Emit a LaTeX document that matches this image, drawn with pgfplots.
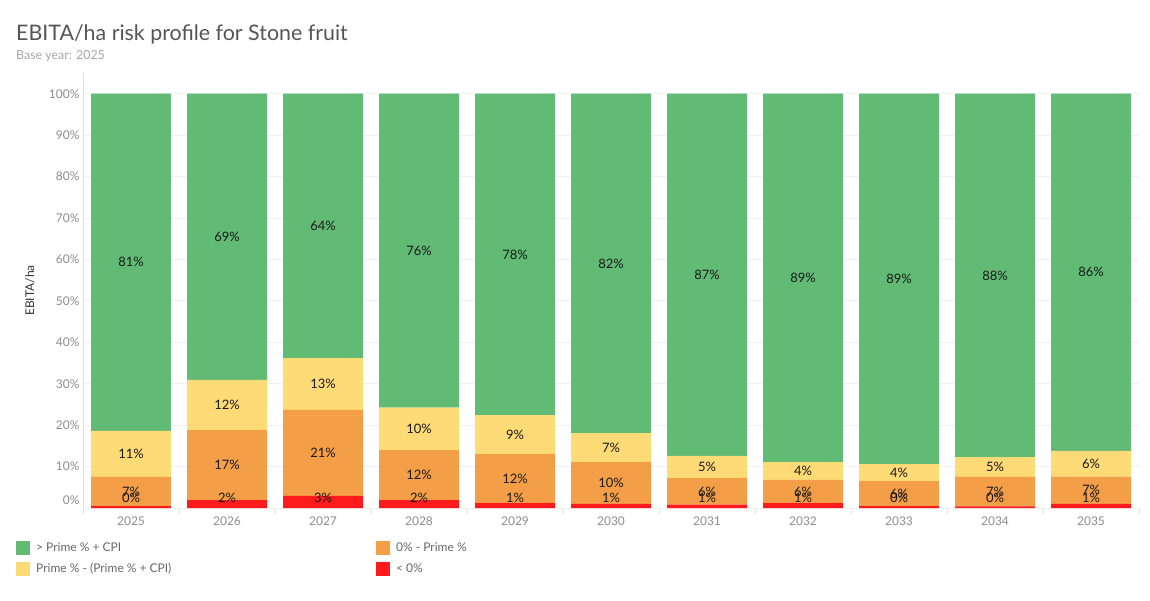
\documentclass[border=0pt]{standalone}
\usepackage{fontspec}
\setmainfont{Lato}
\usepackage{pgfplots}
\pgfplotsset{compat=1.18}
\usepackage{pgfplotstable}

\definecolor{cgreen}{RGB}{97,187,117}
\definecolor{cyellow}{RGB}{255,219,120}
\definecolor{corange}{RGB}{244,158,72}
\definecolor{cred}{RGB}{255,27,27}
\definecolor{ctitle}{RGB}{85,85,85}
\definecolor{csub}{RGB}{165,165,165}
\definecolor{ctick}{RGB}{140,140,140}
\definecolor{cgrid}{RGB}{240,240,240}
\definecolor{cdiv}{RGB}{225,225,225}
\definecolor{clegend}{RGB}{102,102,102}

% share of hectares per EBITA/ha band, %
\pgfplotstableread{
x year red orange yellow green
0  2025 0.45 7.05 11.1 81.4
1  2026 1.9  16.9 12.1 69.1
2  2027 2.9  20.8 12.5 63.8
3  2028 1.9  12.1 10.2 75.8
4  2029 1.2  11.8 9.4  77.6
5  2030 1.0  10.1 7.0  81.9
6  2031 0.8  6.4  5.4  87.4
7  2032 1.2  5.6  4.3  88.9
8  2033 0.45 6.05 4.1  89.4
9  2034 0.4  7.1  4.8  87.7
10 2035 1.0  6.6  6.2  86.2
}\risk

\pgfplotsset{
  riskaxis/.style={
    scale only axis, width=1056pt, height=435pt,
    at={(83pt,92pt)}, anchor=south west,
    xmin=-0.5, xmax=10.5, ymin=0, ymax=105,
    /pgf/number format/assume math mode=true,
  },
}

\begin{document}
\begin{tikzpicture}
\path[use as bounding box] (0,0) rectangle (1150pt,600pt);

\node[anchor=base west, inner sep=0pt, text=ctitle, font=\fontsize{21.4}{25}\selectfont]
  at (16pt,559pt) {EBITA/ha risk profile for Stone fruit};
\node[anchor=base west, inner sep=0pt, text=csub, font=\fontsize{12.4}{14}\selectfont]
  at (16pt,540pt) {Base year: 2025};

\begin{axis}[
  riskaxis,
  ybar stacked, bar width=0.8333,
  axis x line*=bottom, axis y line*=left,
  axis line style={draw=cdiv, -},
  major tick length=0pt,
  xtick={0,...,10},
  xticklabels={2025,2026,2027,2028,2029,2030,2031,2032,2033,2034,2035},
  xticklabel style={yshift=-5pt},
  extra x ticks={-0.5,0.5,...,10.5},
  extra x tick labels={},
  extra x tick style={major tick length=6pt, tick align=outside,
    tick style={draw=cdiv, line width=0.8pt}},
  ytick={10,20,...,100},
  extra y ticks={0},
  extra y tick style={tick label style={yshift=8pt}},
  yticklabel={\pgfmathprintnumber{\tick}\%},
  ymajorgrids, grid style={draw=cgrid, line width=0.8pt},
  tick label style={font=\fontsize{12}{14}\selectfont, text=ctick},
  ylabel={EBITA/ha},
  ylabel style={at={(axis description cs:-0.0502,0.5)}, anchor=center,
    font=\fontsize{12}{14}\selectfont, text=black!80},
]
\addplot[fill=cred, draw=none] table[x=x, y=red] {\risk};
\addplot[fill=corange, draw=none] table[x=x, y=orange] {\risk};
\addplot[fill=cyellow, draw=none] table[x=x, y=yellow] {\risk};
\addplot[fill=cgreen, draw=none] table[x=x, y=green] {\risk};
\end{axis}

\begin{axis}[
  riskaxis, hide axis,
  point meta=explicit,
  nodes near coords={\pgfmathprintnumber[fixed,precision=0]{\pgfplotspointmeta}\%},
  every node near coord/.append style={anchor=center,
    font=\fontsize{13}{15}\selectfont, text=black!90},
  legend columns=2,
  legend image code/.code={\fill[#1] (0pt,-7pt) rectangle (14pt,7pt);
    \path (18pt,0pt);},
  legend style={at={(-0.06345,-0.0759)}, anchor=north west,
    draw=none, fill=none, inner sep=0pt, row sep=6pt,
    font=\fontsize{12}{14}\selectfont, text=clegend,
    cells={anchor=west}},
]
\addplot[forget plot, draw=none, mark=none]
  table[x=x, y expr={max(\thisrow{red}/2,2.4)}, meta=red] {\risk};
\addplot[forget plot, draw=none, mark=none]
  table[x=x, y expr={\thisrow{red}+\thisrow{orange}/2}, meta=orange] {\risk};
\addplot[forget plot, draw=none, mark=none]
  table[x=x, y expr={\thisrow{red}+\thisrow{orange}+\thisrow{yellow}/2}, meta=yellow] {\risk};
\addplot[forget plot, draw=none, mark=none]
  table[x=x, y expr={\thisrow{red}+\thisrow{orange}+\thisrow{yellow}+\thisrow{green}/2}, meta=green] {\risk};

\addlegendimage{fill=cgreen, draw=none}
\addlegendentry{\makebox[338pt][l]{> Prime \% + CPI}}
\addlegendimage{fill=corange, draw=none}
\addlegendentry{0\% - Prime \%}
\addlegendimage{fill=cyellow, draw=none}
\addlegendentry{\makebox[338pt][l]{Prime \% - (Prime \% + CPI)}}
\addlegendimage{fill=cred, draw=none}
\addlegendentry{< 0\%}
\end{axis}
\end{tikzpicture}
\end{document}
